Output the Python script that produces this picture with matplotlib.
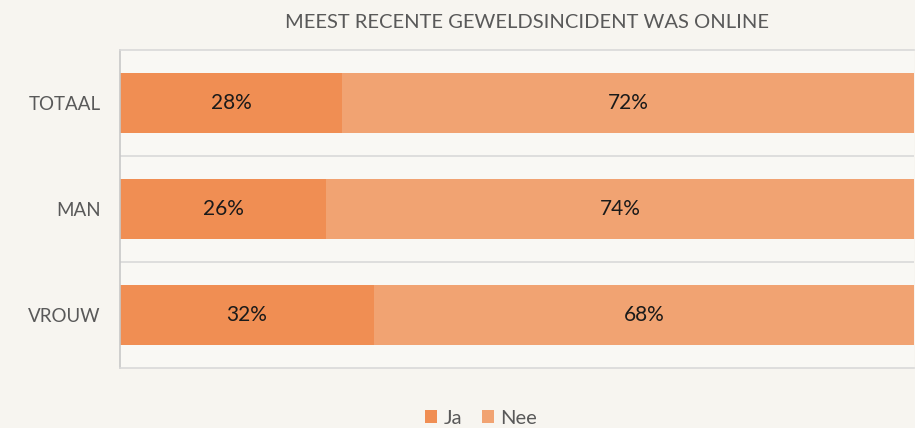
import matplotlib
matplotlib.use("Agg")
import matplotlib.pyplot as plt

categories = ["TOTAAL", "MAN", "VROUW"]
ja = [28, 26, 32]
nee = [72, 74, 68]
series_names = ["Ja", "Nee"]
title = "MEEST RECENTE GEWELDSINCIDENT WAS ONLINE"

plt.rcParams['font.family'] = ['Lato', 'DejaVu Sans']

W, H = 915, 428
fig = plt.figure(figsize=(W / 100, H / 100), dpi=100)
fig.patch.set_facecolor("#f7f5f0")
ax = fig.add_axes([120 / W, 1 - 368 / H, (914 - 120) / W, (368 - 50) / H])
ax.set_facecolor("#f9f8f4")

c_ja = "#f08e53"
c_nee = "#f1a372"
y = list(range(len(categories)))
bh = 0.56
b1 = ax.barh(y, ja, height=bh, color=c_ja, label=series_names[0])
b2 = ax.barh(y, nee, left=ja, height=bh, color=c_nee, label=series_names[1])
for bars, vals, lefts in ((b1, ja, [0] * 3), (b2, nee, ja)):
    for i, (v, l) in enumerate(zip(vals, lefts)):
        ax.text(l + v / 2, i, f"{v}%", ha="center", va="center",
                fontsize=15, color="#1a1a1a")

ax.set_xlim(0, 100)
ax.set_ylim(len(categories) - 0.5, -0.5)
ax.set_yticks(y)
ax.set_yticklabels(categories, fontsize=13.5, color="#595959")
ax.tick_params(axis="y", length=0, pad=14)
ax.set_xticks([])
for b in [0.5, 1.5]:
    ax.axhline(b, color="#d9d9d9", lw=1.2)
for s in ["top", "bottom"]:
    ax.spines[s].set_color("#d9d9d9")
    ax.spines[s].set_linewidth(1.2)
ax.spines["right"].set_visible(False)
ax.spines["left"].set_color("#c8c8c8")
ax.spines["left"].set_linewidth(1.2)

fig.text(527 / W, 1 - 22 / H, title, ha="center", va="center",
         fontsize=14.5, color="#595959")

fig.legend(handles=[b1, b2], labels=series_names, loc="center",
           bbox_to_anchor=(481 / W, 1 - 418 / H), ncol=2, frameon=False,
           fontsize=14.5, labelcolor="#595959", handlelength=0.6,
           handleheight=0.6, handletextpad=0.3, columnspacing=1.0)

fig.savefig("out.png", dpi=100, facecolor=fig.get_facecolor())
